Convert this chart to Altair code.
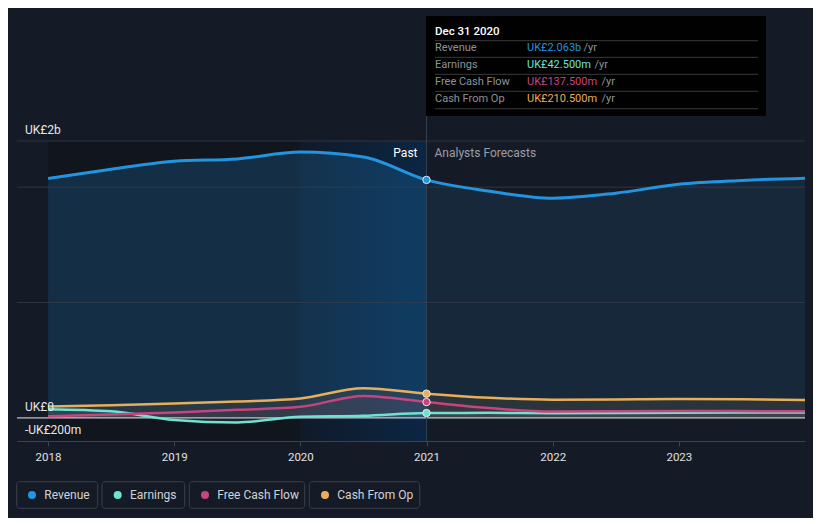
import altair as alt
import pandas as pd

# ---------------- data ----------------
rev_years = [2018.0, 2018.5, 2019.0, 2019.5, 2020.0, 2020.5, 2021.0,
             2021.5, 2022.0, 2022.5, 2023.0, 2023.5, 2024.0]
revenue = [2076, 2155, 2225, 2245, 2304, 2262, 2063,
           1965, 1904, 1948, 2025, 2058, 2078]

earn_years = [2018.0, 2018.5, 2019.0, 2019.5, 2020.0, 2020.5, 2021.0,
              2021.5, 2022.0, 2023.0, 2024.0]
earnings = [76, 58, -17, -39, 10, 18, 42.5, 44, 40, 45, 48]

fcf_years = [2018.0, 2018.5, 2019.0, 2019.5, 2020.0, 2020.5, 2021.0,
             2021.5, 2022.0, 2023.0, 2024.0]
fcf = [15, 30, 48, 70, 96, 190, 137.5, 85, 55, 60, 58]

cfo_years = [2018.0, 2018.5, 2019.0, 2019.5, 2020.0, 2020.5, 2021.0,
             2021.5, 2022.0, 2022.5, 2023.0, 2023.5, 2024.0]
cfo = [100, 110, 125, 142, 168, 258, 210.5, 175, 158, 160, 165, 162, 155]

series_names = ["Revenue", "Earnings", "Free Cash Flow", "Cash From Op"]
series_colors = ["#2394df", "#6ee3d2", "#c8447f", "#e9ae5b"]
tooltip_values = ["UK£2.063b", "UK£42.500m", "UK£137.500m", "UK£210.500m"]
tooltip_title = "Dec 31 2020"
x_ticks = [2018, 2019, 2020, 2021, 2022, 2023]
y_grid = [1000, 2000, 2400]
y_labels = ["UK£2b", "UK£0", "-UK£200m"]
y_label_vals = [2400, 0, -200]

# ---------------- frames ----------------
rows = []
for name, yrs, vals in [("Revenue", rev_years, revenue), ("Earnings", earn_years, earnings),
                        ("Free Cash Flow", fcf_years, fcf), ("Cash From Op", cfo_years, cfo)]:
    for yv, v in zip(yrs, vals):
        rows.append({"series": name, "year": yv, "value": v})
df = pd.DataFrame(rows)

BG = "#151b26"
FONT = "Roboto"
W, H = 788, 300
INTERP = "monotone"
xs = alt.Scale(domain=[2017.754, 2024.0], nice=False, zero=False)
ys = alt.Scale(domain=[-200, 2400], nice=False, zero=False)
cscale = alt.Scale(domain=series_names, range=series_colors)
AX = alt.Axis(values=x_ticks, format="d", labelColor="#e0e0e0", labelFontSize=11.5, labelFont=FONT,
              domainColor="#3d434e", tickColor="#3d434e", tickSize=5, grid=False, title=None,
              labelPadding=5)


def X(field="year:Q"):
    return alt.X(field, scale=xs, axis=AX)


Yv = alt.Y("value:Q", scale=ys, axis=None)

# background bands
bands = pd.DataFrame({"x0": [2018.0], "x1": [2020.0]})
past_dark = alt.Chart(bands).mark_rect(color="#000000", opacity=0.2).encode(
    x=X("x0:Q"), x2="x1:Q", y=alt.value(0), y2=alt.value(H))
hl = pd.DataFrame({"x0": [2020.0], "x1": [2021.0]})
highlight = alt.Chart(hl).mark_rect(
    color=alt.Gradient(gradient="linear", x1=0, x2=1, y1=0, y2=0,
                       stops=[alt.GradientStop(color="#101a29", offset=0),
                              alt.GradientStop(color="#0b2644", offset=1)])
).encode(x=X("x0:Q"), x2="x1:Q", y=alt.value(0), y2=alt.value(H))

rev_df = df[df.series == "Revenue"]
rev_past = alt.Chart(rev_df[rev_df.year <= 2021]).mark_area(
    color=series_colors[0], opacity=0.2, interpolate=INTERP).encode(
    x=X(), y=Yv, y2=alt.datum(0))
rev_fc = alt.Chart(rev_df[rev_df.year >= 2021]).mark_area(
    color=series_colors[0], opacity=0.11, interpolate=INTERP).encode(
    x=X(), y=Yv, y2=alt.datum(0))

others = df[df.series != "Revenue"]
small_areas = alt.Chart(others).mark_area(opacity=0.09, interpolate=INTERP).encode(
    x=X(), y=alt.Y("value:Q", scale=ys, axis=None, stack=None), y2=alt.datum(0),
    color=alt.Color("series:N", scale=cscale, legend=None))

grid = alt.Chart(pd.DataFrame({"g": y_grid})).mark_rule(color="#3a404b", strokeWidth=1, opacity=0.7).encode(
    y=alt.Y("g:Q", scale=ys, axis=None))
zero = alt.Chart(pd.DataFrame({"g": [0]})).mark_rule(color="#e8e8e8", strokeWidth=1).encode(
    y=alt.Y("g:Q", scale=ys, axis=None))

vline = alt.Chart(pd.DataFrame({"x": [2021.0]})).mark_rule(color="#33404f", strokeWidth=1).encode(
    x=X("x:Q"), y=alt.value(-25), y2=alt.value(H))

lines = []
for name, col in zip(series_names, series_colors):
    sw = 3 if name == "Revenue" else 2.5
    lines.append(alt.Chart(df[df.series == name]).mark_line(
        color=col, strokeWidth=sw, interpolate=INTERP).encode(x=X(), y=Yv))

dots = alt.Chart(df[df.year == 2021.0]).mark_point(
    filled=True, size=55, stroke="#e6e6e6", strokeWidth=1, opacity=1).encode(
    x=X(), y=Yv, fill=alt.Fill("series:N", scale=cscale, legend=None))

# y labels
ylab = alt.Chart(pd.DataFrame({"t": y_labels, "v": y_label_vals})).mark_text(
    align="left", baseline="middle", dy=-11, color="#e6e6e6", fontSize=12, font=FONT).encode(
    x=alt.value(8), y=alt.Y("v:Q", scale=ys, axis=None), text="t:N")

# Past / forecast labels
pf = pd.DataFrame({"x": [2021.0]})
past_txt = alt.Chart(pf).mark_text(align="right", baseline="middle", dx=-9, color="#ffffff",
                                   fontSize=12, font=FONT, text="Past").encode(
    x=X("x:Q"), y=alt.value(12))
fc_txt = alt.Chart(pf).mark_text(align="left", baseline="middle", dx=8, color="#9a9ea6",
                                 fontSize=12, font=FONT, text="Analysts Forecasts").encode(
    x=X("x:Q"), y=alt.value(12))

# tooltip box
TF = 11
tip_bg = alt.Chart(pd.DataFrame({"a": [409], "b": [749], "c": [-125], "d": [-25]})).mark_rect(
    color="#000000", opacity=0.95).encode(
    x=alt.X("a:Q", scale=None), x2="b:Q", y=alt.Y("c:Q", scale=None), y2="d:Q")
tip_title = alt.Chart(pd.DataFrame({"t": [tooltip_title]})).mark_text(
    align="left", baseline="middle", color="#ffffff", fontSize=11.5, font=FONT, fontWeight=500).encode(
    x=alt.value(418), y=alt.value(-109.3), text="t:N")
sep = alt.Chart(pd.DataFrame({"y": [-100.3, -83.7, -66.7, -49.7, -32.3]})).mark_rule(
    color="#3a3a3a", strokeWidth=1).encode(
    x=alt.value(418), x2=alt.value(741), y=alt.Y("y:Q", scale=None))
tip_rows = pd.DataFrame({"label": series_names, "val": tooltip_values,
                         "y": [-92.7, -76.0, -59.3, -42.0], "yrx": [566.5, 577.5, 584.5, 584.5]})
tip_lab = alt.Chart(tip_rows).mark_text(align="left", baseline="middle", color="#8e9198",
                                        fontSize=TF, font=FONT).encode(
    x=alt.value(418), y=alt.Y("y:Q", scale=None), text="label:N")
tip_val = alt.Chart(tip_rows).mark_text(align="left", baseline="middle", fontSize=TF, font=FONT).encode(
    x=alt.value(510), y=alt.Y("y:Q", scale=None), text="val:N",
    color=alt.Color("label:N", scale=cscale, legend=None))
tip_yr = alt.Chart(tip_rows).mark_text(align="left", baseline="middle", color="#8e9198",
                                       fontSize=TF, font=FONT, text="/yr").encode(
    x=alt.X("yrx:Q", scale=None), y=alt.Y("y:Q", scale=None))

# legend
leg = pd.DataFrame({"name": series_names,
                    "bx0": [-0.3, 85.0, 172.3, 292.3], "bx1": [80.7, 167.7, 287.7, 402.7],
                    "dx": [15.0, 100.7, 188.0, 308.0], "tx": [27.3, 113.0, 200.3, 320.3],
                    "y0": [340.7] * 4, "y1": [367.3] * 4, "yc": [354.0] * 4})
leg_box = alt.Chart(leg).mark_rect(fillOpacity=0, stroke="#3a3f4a", strokeWidth=1, cornerRadius=3).encode(
    x=alt.X("bx0:Q", scale=None), x2="bx1:Q", y=alt.Y("y0:Q", scale=None), y2="y1:Q")
leg_dot = alt.Chart(leg).mark_circle(size=64, opacity=1).encode(
    x=alt.X("dx:Q", scale=None), y=alt.Y("yc:Q", scale=None),
    color=alt.Color("name:N", scale=cscale, legend=None))
leg_txt = alt.Chart(leg).mark_text(align="left", baseline="middle", color="#d0d2d6",
                                   fontSize=12, font=FONT).encode(
    x=alt.X("tx:Q", scale=None), y=alt.Y("yc:Q", scale=None), text="name:N")

chart = alt.layer(
    past_dark, highlight, rev_past, rev_fc, small_areas, grid, zero, vline,
    *lines, dots, ylab, past_txt, fc_txt,
    tip_bg, tip_title, sep, tip_lab, tip_val, tip_yr,
    leg_box, leg_dot, leg_txt,
).resolve_scale(color="shared").properties(
    width=W, height=H, background=BG,
    padding={"left": 9, "top": 133, "right": 8, "bottom": 77},
    autosize=alt.AutoSizeParams(type="none"),
).configure_view(stroke=None)

chart.save("out.html", embed_options={"renderer": "svg", "actions": False})
